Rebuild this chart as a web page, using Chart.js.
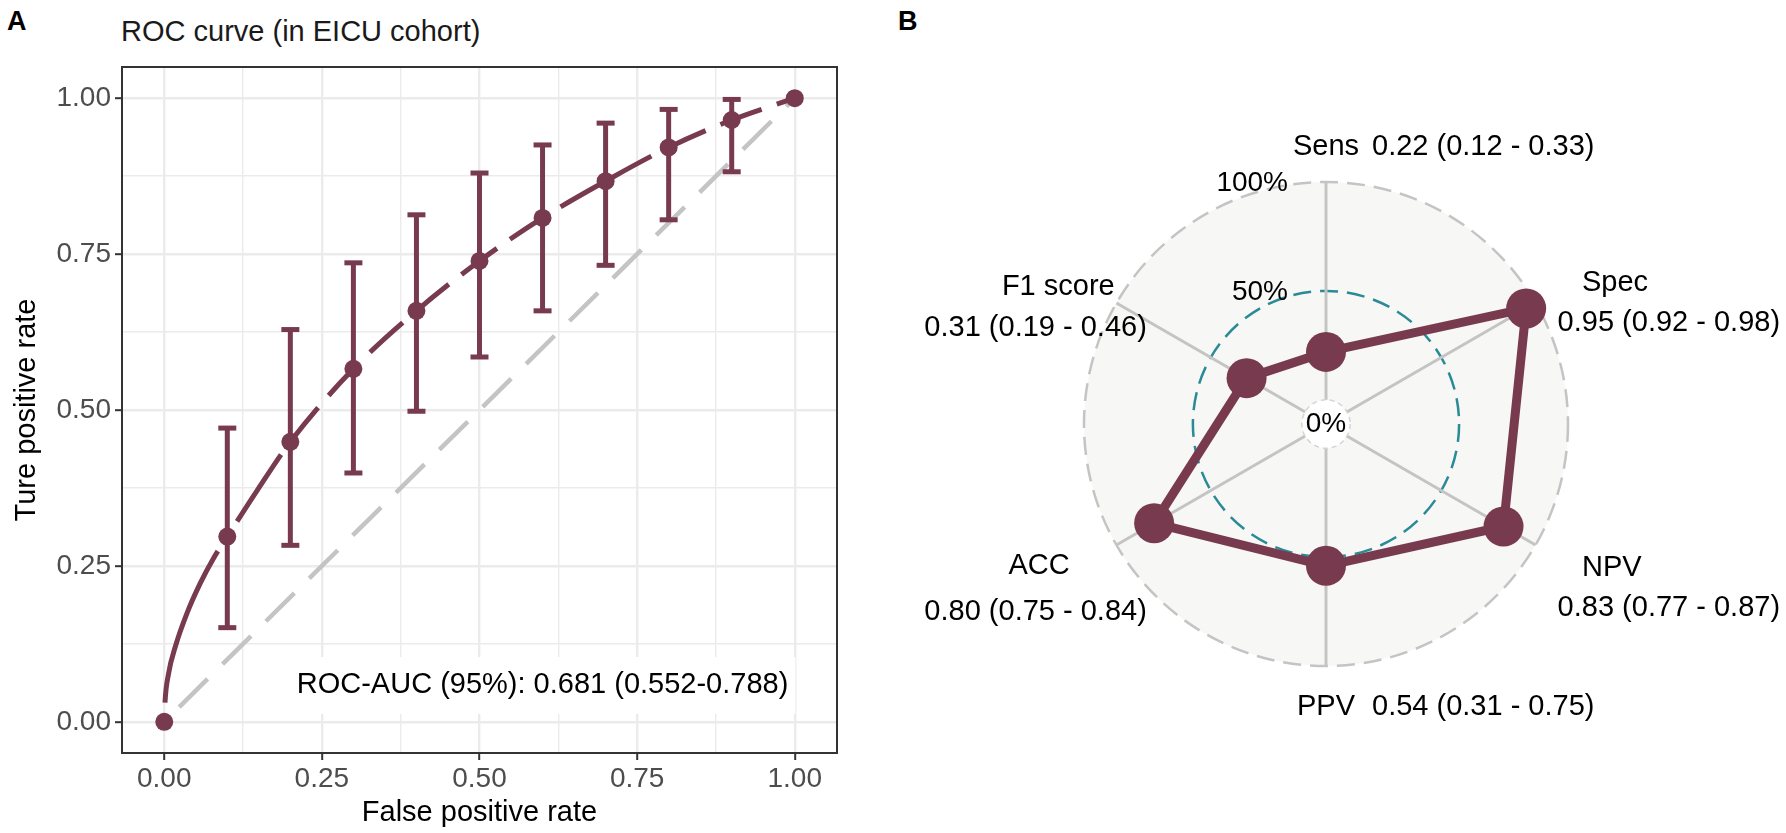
<!DOCTYPE html>
<html>
<head>
<meta charset="utf-8">
<script src="https://cdn.jsdelivr.net/npm/chart.js@4.4.1/dist/chart.umd.min.js"></script>
<style>
  body { margin: 0; background: #fff; width: 1786px; height: 833px; position: relative; overflow: hidden; font-family: "Liberation Sans", Arial, sans-serif; }
  .tag { position: absolute; font-weight: bold; font-size: 27px; line-height: 27px; color: #000; }
  #rocTitle { position: absolute; left: 121px; top: 16.5px; font-size: 29px; line-height: 29px; color: #1a1a1a; white-space: nowrap; }
  #rocBox { position: absolute; left: 0; top: 0; width: 860px; height: 833px; }
  #radarBox { position: absolute; left: 880px; top: 0; width: 906px; height: 833px; }
</style>
</head>
<body>
<div class="tag" style="left:7px;top:8px">A</div>
<div class="tag" style="left:898px;top:8px">B</div>
<div id="rocTitle">ROC curve (in EICU cohort)</div>
<div id="rocBox"><canvas id="roc"></canvas></div>
<div id="radarBox"><canvas id="radar"></canvas></div>
<script>
'use strict'

// ROC points with 95% CI
const rocFpr  = [0, 0.1, 0.2, 0.3, 0.4, 0.5, 0.6, 0.7, 0.8, 0.9, 1]
const rocTpr  = [0, 0.297, 0.449, 0.566, 0.659, 0.739, 0.808, 0.867, 0.921, 0.965, 1]
const rocLow  = [null, 0.151, 0.283, 0.399, 0.498, 0.585, 0.659, 0.732, 0.805, 0.882, null]
const rocHigh = [null, 0.471, 0.629, 0.736, 0.813, 0.880, 0.925, 0.960, 0.982, 0.998, null]

// fitted curve
const curveFpr = [0, 0.001, 0.007, 0.018, 0.036, 0.057, 0.078, 0.1, 0.148, 0.2, 0.3, 0.4, 0.5, 0.6, 0.7, 0.8, 0.9, 1]
const curveTpr = [0, 0.028, 0.078, 0.122, 0.174, 0.222, 0.262, 0.297, 0.372, 0.449, 0.566, 0.659, 0.739, 0.808, 0.867, 0.921, 0.965, 1]

const rocTicks = [0, 0.25, 0.5, 0.75, 1]
const rocGrid  = [0, 0.125, 0.25, 0.375, 0.5, 0.625, 0.75, 0.875, 1]
const aucText  = 'ROC-AUC (95%): 0.681 (0.552-0.788)'

// radar metrics
const metricNames  = ['Sens', 'Spec', 'NPV', 'PPV', 'ACC', 'F1 score']
const metricValues = [0.22, 0.95, 0.83, 0.54, 0.80, 0.31]
const metricLow    = [0.12, 0.92, 0.77, 0.31, 0.75, 0.19]
const metricHigh   = [0.33, 0.98, 0.87, 0.75, 0.84, 0.46]
const radarRings      = [0, 0.5, 1]
const radarRingLabels = ['0%', '50%', '100%']

const FONT = '"Liberation Sans", Arial, sans-serif'
const maroon = '#783A4E'
const isMajor = v => rocTicks.includes(v)

// dash runs of the curve: the first two stretches have long dashes
const curveDash = x => {
    if (x < 0.1) return {dash: [162, 38], offset: 181}
    if (x < 0.2) return {dash: [80, 35], offset: 97}
    return {dash: [44, 16], offset: 0}
}

// white label box + text, border round the panel
const rocExtras = {
    id: 'rocExtras',
    beforeDatasetsDraw(chart) {
        const {ctx, scales: {x, y}} = chart
        const cx = x.getPixelForValue(0.6)
        const cy = y.getPixelForValue(0.059)
        ctx.save()
        ctx.font = `29px ${FONT}`
        const w = ctx.measureText(aucText).width
        ctx.fillStyle = '#fff'
        ctx.fillRect(cx - w / 2 - 7, cy - 28, w + 14, 57)
        ctx.fillStyle = '#000'
        ctx.textAlign = 'center'
        ctx.textBaseline = 'middle'
        ctx.fillText(aucText, cx, cy)
        ctx.restore()
    },
    afterDatasetsDraw(chart) {
        const {ctx, chartArea: a} = chart
        ctx.save()
        ctx.strokeStyle = '#333'
        ctx.lineWidth = 2
        ctx.strokeRect(a.left, a.top, a.right - a.left, a.bottom - a.top)
        ctx.restore()
    }
}

const errorBars = rocFpr
    .map((fpr, i) => ({fpr, lo: rocLow[i], hi: rocHigh[i]}))
    .filter(d => d.lo !== null)
    .map(d => ({
        type: 'line',
        data: [{x: d.fpr, y: d.lo}, {x: d.fpr, y: d.hi}],
        borderColor: maroon,
        borderWidth: 5,
        pointStyle: 'line',
        pointRadius: 9,
        pointBorderWidth: 5,
        pointBorderColor: maroon,
        order: 2
    }))

new Chart(document.getElementById('roc'), {
    type: 'scatter',
    data: {
        datasets: [
            {
                type: 'line',
                data: [{x: 0, y: 0}, {x: 1, y: 1}],
                borderColor: '#C4C4C4',
                borderWidth: 4.5,
                borderDash: [40, 21],
                borderDashOffset: 40,
                pointRadius: 0,
                order: 5
            },
            {
                type: 'line',
                data: curveFpr.map((x, i) => ({x, y: curveTpr[i]})),
                borderColor: maroon,
                borderWidth: 5,
                borderDash: [],
                pointRadius: 0,
                cubicInterpolationMode: 'monotone',
                segment: {
                    borderDash: c => curveDash(curveFpr[c.p0DataIndex]).dash,
                    borderDashOffset: c => curveDash(curveFpr[c.p0DataIndex]).offset
                },
                order: 4
            },
            ...errorBars,
            {
                data: rocFpr.map((x, i) => ({x, y: rocTpr[i]})),
                backgroundColor: maroon,
                borderColor: maroon,
                pointRadius: 9,
                borderWidth: 0,
                order: 1
            }
        ]
    },
    options: {
        responsive: true,
        maintainAspectRatio: false,
        animation: false,
        events: [],
        layout: {padding: {top: 67, right: 23, left: 0, bottom: 0}},
        plugins: {legend: {display: false}, tooltip: {enabled: false}},
        scales: {
            x: {
                type: 'linear',
                min: -0.067,
                max: 1.067,
                afterBuildTicks: s => { s.ticks = rocGrid.map(v => ({value: v})) },
                afterFit: s => { s.height = 80 },
                border: {display: false},
                grid: {
                    color: '#EBEBEB',
                    lineWidth: c => isMajor(c.tick.value) ? 2.4 : 1.4,
                    tickColor: '#333',
                    tickWidth: c => isMajor(c.tick.value) ? 2 : 0,
                    tickLength: 7
                },
                ticks: {
                    color: '#4D4D4D',
                    font: {size: 28, family: FONT},
                    padding: 2,
                    autoSkip: false,
                    maxRotation: 0,
                    callback: v => isMajor(v) ? v.toFixed(2) : ''
                },
                title: {
                    display: true,
                    text: 'False positive rate',
                    color: '#000',
                    font: {size: 29, family: FONT},
                    padding: {top: 0, bottom: 3}
                }
            },
            y: {
                type: 'linear',
                min: -0.05,
                max: 1.05,
                afterBuildTicks: s => { s.ticks = rocGrid.map(v => ({value: v})) },
                afterFit: s => { s.width = 122 },
                border: {display: false},
                grid: {
                    color: '#EBEBEB',
                    lineWidth: c => isMajor(c.tick.value) ? 2.4 : 1.4,
                    tickColor: '#333',
                    tickWidth: c => isMajor(c.tick.value) ? 2 : 0,
                    tickLength: 7
                },
                ticks: {
                    color: '#4D4D4D',
                    font: {size: 28, family: FONT},
                    padding: 4,
                    autoSkip: false,
                    callback: v => isMajor(v) ? v.toFixed(2) : ''
                },
                title: {
                    display: true,
                    text: 'Ture positive rate',
                    color: '#000',
                    font: {size: 29, family: FONT},
                    padding: {top: 10, bottom: 0}
                }
            }
        }
    },
    plugins: [rocExtras]
})

// label spots relative to radar centre: [dx, dy, align]
const labelSpots = [
    {name: [0, -277.5, 'center'], value: [46, -277.5, 'left']},
    {name: [256, -141, 'left'], value: [231.6, -101, 'left']},
    {name: [256, 144, 'left'], value: [231.6, 184, 'left']},
    {name: [0, 282.5, 'center'], value: [46, 282.5, 'left']},
    {name: [-287, 141.5, 'center'], value: [-290.4, 187.5, 'center']},
    {name: [-267.7, -137, 'center'], value: [-290.4, -96, 'center']}
]

const radarText = {
    id: 'radarText',
    beforeDatasetsDraw(chart) {
        const {ctx} = chart
        const r = chart.scales.r
        const r0 = r.getDistanceFromCenterForValue(radarRings[0])
        ctx.save()
        ctx.beginPath()
        ctx.arc(r.xCenter, r.yCenter, r0, 0, Math.PI * 2)
        ctx.fillStyle = '#fff'
        ctx.fill()
        ctx.setLineDash([5, 4])
        ctx.strokeStyle = '#D4D4D4'
        ctx.lineWidth = 1.5
        ctx.stroke()
        ctx.setLineDash([])

        ctx.font = `28px ${FONT}`
        ctx.fillStyle = '#000'
        ctx.textBaseline = 'middle'
        ctx.textAlign = 'center'
        ctx.fillText(radarRingLabels[0], r.xCenter, r.yCenter)
        ctx.textAlign = 'right'
        for (let i = 1; i < radarRings.length; i++) {
            const d = r.getDistanceFromCenterForValue(radarRings[i])
            ctx.fillText(radarRingLabels[i], r.xCenter - 38, r.yCenter - d + 1)
        }
        ctx.restore()
    },
    afterDraw(chart) {
        const {ctx} = chart
        const r = chart.scales.r
        ctx.save()
        ctx.font = `29px ${FONT}`
        ctx.fillStyle = '#000'
        ctx.textBaseline = 'middle'
        metricNames.forEach((name, i) => {
            const spot = labelSpots[i]
            const valueText = `${metricValues[i].toFixed(2)} (${metricLow[i].toFixed(2)} - ${metricHigh[i].toFixed(2)})`
            ctx.textAlign = spot.name[2]
            ctx.fillText(name, r.xCenter + spot.name[0], r.yCenter + spot.name[1])
            ctx.textAlign = spot.value[2]
            ctx.fillText(valueText, r.xCenter + spot.value[0], r.yCenter + spot.value[1])
        })
        ctx.restore()
    }
}

new Chart(document.getElementById('radar'), {
    type: 'radar',
    data: {
        labels: metricNames,
        datasets: [{
            data: metricValues,
            borderColor: maroon,
            backgroundColor: 'transparent',
            fill: false,
            borderWidth: 9,
            pointRadius: 20,
            pointBackgroundColor: maroon,
            pointBorderColor: maroon,
            pointBorderWidth: 0
        }]
    },
    options: {
        responsive: true,
        maintainAspectRatio: false,
        animation: false,
        events: [],
        layout: {padding: {left: 204, right: 218, top: 182, bottom: 167}},
        plugins: {legend: {display: false}, tooltip: {enabled: false}},
        scales: {
            r: {
                min: -1 / 9,
                max: 1,
                backgroundColor: '#F7F7F5',
                afterBuildTicks: s => { s.ticks = radarRings.map(v => ({value: v})) },
                ticks: {display: false},
                pointLabels: {display: false},
                angleLines: {color: '#C4C4C4', lineWidth: 3},
                grid: {
                    circular: true,
                    color: c => c.tick && c.tick.value === 0.5 ? '#2A8A96' : '#C4C4C4',
                    lineWidth: c => c.tick && c.tick.value === 0 ? 0 : 2.5
                },
                border: {dash: [18, 9]}
            }
        }
    },
    plugins: [radarText]
})
</script>
</body>
</html>
